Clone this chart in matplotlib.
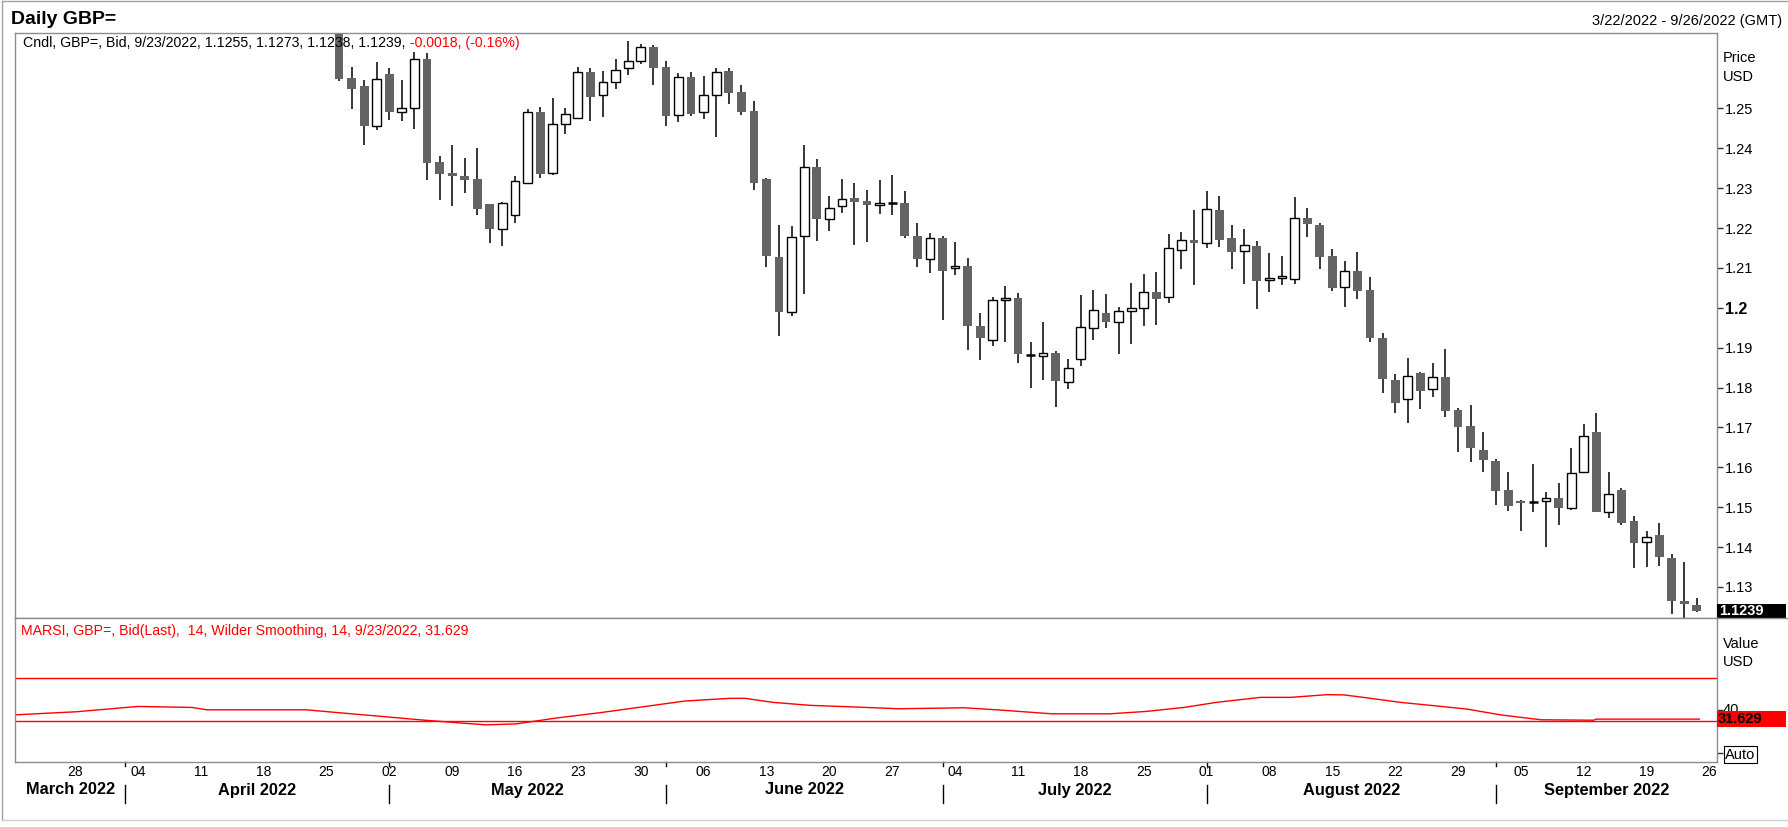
import numpy as np
import pandas as pd
import matplotlib
matplotlib.use('Agg')
import matplotlib.pyplot as plt
from matplotlib.transforms import blended_transform_factory
from matplotlib.patches import Rectangle
from matplotlib.lines import Line2D

plt.rcParams['font.family'] = ['Liberation Sans', 'DejaVu Sans']

# trading days on the x axis (Mon-Fri, 3/22 .. 9/26)
days = pd.bdate_range('2022-03-22', '2022-09-26')

# daily candles; earlier ones are above the visible range
first_candle = '2022-04-26'
opens = [1.2739, 1.2576, 1.2557, 1.2457, 1.2586, 1.2492, 1.2500, 1.2624, 1.2365, 1.2338,
         1.2330, 1.2323, 1.2260, 1.2198, 1.2232, 1.2314, 1.2492, 1.2337, 1.2462, 1.2477,
         1.2590, 1.2533, 1.2565, 1.2600, 1.2618, 1.2654, 1.2604, 1.2483, 1.2578, 1.2492,
         1.2533, 1.2593, 1.2541, 1.2493, 1.2323, 1.2127, 1.1990, 1.2181, 1.2353, 1.2222,
         1.2254, 1.2274, 1.2267, 1.2257, 1.2263, 1.2263, 1.2180, 1.2123, 1.2175, 1.2099,
         1.2105, 1.1954, 1.1918, 1.2020, 1.2025, 1.1882, 1.1880, 1.1887, 1.1815, 1.1871,
         1.1949, 1.1987, 1.1964, 1.1991, 1.1999, 1.2040, 1.2026, 1.2144, 1.2170, 1.2162,
         1.2245, 1.2175, 1.2142, 1.2155, 1.2069, 1.2074, 1.2071, 1.2225, 1.2208, 1.2130,
         1.2051, 1.2092, 1.2045, 1.1924, 1.1819, 1.1770, 1.1837, 1.1796, 1.1826, 1.1744,
         1.1704, 1.1644, 1.1616, 1.1542, 1.1515, 1.1513, 1.1515, 1.1524, 1.1499, 1.1589,
         1.1688, 1.1489, 1.1542, 1.1466, 1.1412, 1.1430, 1.1372, 1.1265, 1.1255]
highs = [1.2770, 1.2604, 1.2572, 1.2616, 1.2601, 1.2571, 1.2641, 1.2639, 1.2380, 1.2407,
         1.2375, 1.2400, 1.2261, 1.2264, 1.2330, 1.2498, 1.2503, 1.2526, 1.2501, 1.2604,
         1.2601, 1.2593, 1.2624, 1.2669, 1.2661, 1.2658, 1.2618, 1.2588, 1.2591, 1.2582,
         1.2601, 1.2601, 1.2559, 1.2518, 1.2325, 1.2208, 1.2205, 1.2408, 1.2372, 1.2280,
         1.2324, 1.2314, 1.2295, 1.2320, 1.2333, 1.2293, 1.2212, 1.2187, 1.2179, 1.2165,
         1.2125, 1.1987, 1.2027, 1.2055, 1.2037, 1.1913, 1.1964, 1.1892, 1.1871, 1.2032,
         1.2045, 1.2035, 1.2002, 1.2062, 1.2085, 1.2090, 1.2185, 1.2189, 1.2245, 1.2293,
         1.2280, 1.2208, 1.2197, 1.2167, 1.2137, 1.2130, 1.2278, 1.2250, 1.2213, 1.2147,
         1.2117, 1.2140, 1.2077, 1.1937, 1.1834, 1.1874, 1.1838, 1.1862, 1.1897, 1.1748,
         1.1756, 1.1689, 1.1620, 1.1587, 1.1518, 1.1608, 1.1537, 1.1560, 1.1648, 1.1709,
         1.1736, 1.1587, 1.1547, 1.1479, 1.1441, 1.1460, 1.1383, 1.1363, 1.1273]
lows = [1.2569, 1.2499, 1.2409, 1.2446, 1.2472, 1.2469, 1.2449, 1.2321, 1.2271, 1.2256,
        1.2288, 1.2233, 1.2162, 1.2154, 1.2213, 1.2313, 1.2325, 1.2334, 1.2436, 1.2474,
        1.2469, 1.2479, 1.2549, 1.2584, 1.2612, 1.2559, 1.2456, 1.2466, 1.2482, 1.2474,
        1.2428, 1.2511, 1.2484, 1.2296, 1.2103, 1.1928, 1.1980, 1.2035, 1.2168, 1.2193,
        1.2238, 1.2158, 1.2166, 1.2236, 1.2233, 1.2176, 1.2101, 1.2086, 1.1970, 1.2081,
        1.1893, 1.1869, 1.1903, 1.1913, 1.1861, 1.1800, 1.1820, 1.1752, 1.1797, 1.1855,
        1.1918, 1.1948, 1.1885, 1.1910, 1.1953, 1.1958, 1.2013, 1.2098, 1.2058, 1.2151,
        1.2153, 1.2096, 1.2060, 1.1998, 1.2040, 1.2058, 1.2060, 1.2178, 1.2096, 1.2043,
        1.2003, 1.2023, 1.1914, 1.1785, 1.1735, 1.1710, 1.1747, 1.1777, 1.1725, 1.1639,
        1.1612, 1.1589, 1.1505, 1.1491, 1.1439, 1.1488, 1.1401, 1.1456, 1.1492, 1.1587,
        1.1487, 1.1472, 1.1456, 1.1347, 1.1350, 1.1353, 1.1233, 1.1212, 1.1238]
closes = [1.2574, 1.2549, 1.2456, 1.2573, 1.2492, 1.2500, 1.2623, 1.2364, 1.2336, 1.2331,
          1.2321, 1.2248, 1.2198, 1.2262, 1.2317, 1.2492, 1.2336, 1.2461, 1.2487, 1.2590,
          1.2529, 1.2565, 1.2595, 1.2618, 1.2653, 1.2602, 1.2482, 1.2578, 1.2487, 1.2533,
          1.2590, 1.2538, 1.2492, 1.2314, 1.2131, 1.1990, 1.2177, 1.2352, 1.2223, 1.2249,
          1.2272, 1.2266, 1.2258, 1.2262, 1.2263, 1.2180, 1.2122, 1.2174, 1.2091, 1.2104,
          1.1953, 1.1925, 1.2019, 1.2025, 1.1884, 1.1882, 1.1887, 1.1817, 1.1848, 1.1952,
          1.1994, 1.1965, 1.1991, 1.1999, 1.2039, 1.2023, 1.2149, 1.2169, 1.2163, 1.2247,
          1.2171, 1.2141, 1.2157, 1.2068, 1.2075, 1.2079, 1.2224, 1.2211, 1.2128, 1.2050,
          1.2092, 1.2043, 1.1925, 1.1822, 1.1760, 1.1828, 1.1792, 1.1826, 1.1742, 1.1702,
          1.1649, 1.1617, 1.1540, 1.1504, 1.1511, 1.1513, 1.1524, 1.1499, 1.1586, 1.1678,
          1.1488, 1.1534, 1.1461, 1.1409, 1.1426, 1.1376, 1.1264, 1.1256, 1.1239]

# MARSI pane: (trading-day offset from 3/22, value)
rsi_pos = [-0.7, 4.1, 9.0, 13.3, 14.5, 22.4, 25.4, 28.5, 31.5, 34.6, 36.7, 39.1, 42.2,
           45.8, 48.8, 52.5, 56.1, 57.3, 59.5, 62.5, 65.6, 69.5, 73.2, 74.7, 77.7, 81.7,
           86.3, 89.2, 92.2, 94.8, 98.3, 100.7, 103.6, 104.9, 106.8, 109.4, 112.1, 114.7,
           117.4, 120.6, 124.8, 125.0, 133.2]
rsi_val = [35.6, 38.4, 43.3, 42.4, 40.2, 40.2, 37.1, 34.0, 30.9, 28.1, 26.3, 27.2, 32.5,
           37.6, 42.4, 48.3, 50.8, 50.8, 47.1, 44.3, 43.0, 41.2, 41.8, 42.1, 39.9, 36.5,
           36.5, 38.7, 42.4, 47.1, 51.7, 51.7, 54.2, 54.0, 51.2, 47.1, 44.0, 40.9,
           35.5, 31.0, 30.6, 31.6, 31.6]
rsi_levels = [70, 30]

price_ticks = [1.13, 1.14, 1.15, 1.16, 1.17, 1.18, 1.19, 1.20, 1.21, 1.22, 1.23, 1.24, 1.25]

title = 'Daily GBP='
date_range_text = '3/22/2022 - 9/26/2022 (GMT)'
cndl_text = 'Cndl, GBP=, Bid, 9/23/2022, 1.1255, 1.1273, 1.1238, 1.1239,'
cndl_change = ' -0.0018, (-0.16%)'
rsi_text = 'MARSI, GBP=, Bid(Last),  14, Wilder Smoothing, 14, 9/23/2022, 31.629'
rsi_last = 31.629

# ---------------------------------------------------------------------------
W, H = 1788, 827
def fx(px):
    return px / W
def fy(py):
    return 1 - py / H

frame_col = '#8c8c96'
down_col = '#646464'

fig = plt.figure(figsize=(W / 100, H / 100), dpi=100)
ax = fig.add_axes([fx(15), fy(618), fx(1717) - fx(15), fy(33) - fy(618)])
ax2 = fig.add_axes([fx(15), fy(762), fx(1717) - fx(15), fy(618) - fy(762)])

xlim = (-0.77, 134.6)

# candles
O = np.array(opens); Hi = np.array(highs); Lo = np.array(lows); C = np.array(closes)
start = days.get_loc(pd.Timestamp(first_candle))
x = np.arange(start, start + len(O))
up = C > O
down = C < O
flat = C == O
bw = 0.7

ax.vlines(x, Lo, Hi, color='black', lw=1.1, zorder=1)
ax.bar(x[down], (O - C)[down], bottom=C[down], width=bw, color=down_col, lw=0, zorder=2)
ax.bar(x[up], (C - O)[up], bottom=O[up], width=bw, facecolor='white',
       edgecolor='black', lw=1.0, zorder=2)
ax.hlines(C[flat], x[flat] - bw / 2, x[flat] + bw / 2, color='black', lw=1.8, zorder=2)

ax.set_xlim(*xlim)
ax.set_ylim(1.1222, 1.2689)
ax.set_xticks([])
ax.yaxis.tick_right()
ax.set_yticks(price_ticks)
ax.set_yticklabels(['1.2' if abs(t - 1.2) < 1e-9 else f'{t:.2f}' for t in price_ticks])
ax.tick_params(axis='y', length=4, width=1, color='#333333', pad=2, labelsize=10.5)
for lab, t in zip(ax.get_yticklabels(), price_ticks):
    if abs(t - 1.2) < 1e-9:
        lab.set_fontweight('bold')
        lab.set_fontsize(11.5)
for sp in ax.spines.values():
    sp.set_color(frame_col)
    sp.set_linewidth(1)

# last price box
tr_main = blended_transform_factory(fig.transFigure, ax.transData)
box_h = 15 / 3990
ax.add_patch(Rectangle((fx(1717), C[-1] - box_h / 2), fx(1786) - fx(1717), box_h,
                       transform=tr_main, facecolor='black', edgecolor='none',
                       clip_on=False, zorder=5))
ax.text(fx(1719), C[-1], f'{C[-1]:.4f}', transform=tr_main, color='white',
        fontsize=10.5, fontweight='bold', va='center', ha='left', zorder=6, clip_on=False)

# RSI pane
ax2.plot(rsi_pos, rsi_val, color='red', lw=1.0)
for lv in rsi_levels:
    ax2.axhline(lv, color='red', lw=1.0)
ax2.set_xlim(*xlim)
ax2.set_ylim(-8, 125)
ax2.set_xticks([])
ax2.yaxis.tick_right()
ax2.set_yticks([0, 40])
ax2.set_yticklabels(['Auto', ''])
ax2.tick_params(axis='y', length=4, width=1, color='#333333', pad=2, labelsize=10.5)
ax2.get_yticklabels()[0].set_bbox(dict(facecolor='white', edgecolor='black', pad=1, lw=0.8))
for sp in ax2.spines.values():
    sp.set_color(frame_col)
    sp.set_linewidth(1)

tr_rsi = blended_transform_factory(fig.transFigure, ax2.transData)
# the "40" label sits mostly behind the value box, as in the source chart
ax2.text(fx(1723), 40, '40', transform=tr_rsi, fontsize=10.5, va='center', ha='left',
         clip_on=False, zorder=4)
rbox_h = 16 / 1.075
ax2.add_patch(Rectangle((fx(1717), rsi_last - rbox_h / 2), fx(1786) - fx(1717), rbox_h,
                        transform=tr_rsi, facecolor='red', edgecolor='none',
                        clip_on=False, zorder=5))
ax2.text(fx(1718), rsi_last, f'{rsi_last:.3f}', transform=tr_rsi, color='black',
         fontsize=10.5, fontweight='bold', va='center', ha='left', zorder=6, clip_on=False)

# separator line between panes runs on to the right edge
fig.add_artist(Line2D([fx(1717), 1.0], [fy(618), fy(618)], color=frame_col, lw=1))

# date axis: Monday labels and month names
tr_x = blended_transform_factory(ax2.transData, fig.transFigure)
for i, d in enumerate(days):
    if d.weekday() == 0:
        ax2.text(i, fy(772), d.strftime('%d'), transform=tr_x, ha='center', va='center',
                 fontsize=10, clip_on=False)

month_starts = [i for i in range(1, len(days)) if days[i].month != days[i - 1].month]
bounds = [xlim[0]] + month_starts + [xlim[1]]
seg_first = [0] + month_starts
for k in range(len(seg_first)):
    mid = (bounds[k] + bounds[k + 1]) / 2
    ax2.text(mid, fy(790), days[seg_first[k]].strftime('%B %Y'), transform=tr_x,
             ha='center', va='center', fontsize=11.8, fontweight='bold', clip_on=False)
for m in month_starts:
    ax2.add_line(Line2D([m, m], [fy(762), fy(766)], transform=tr_x, color='black',
                        lw=1, clip_on=False))
    ax2.add_line(Line2D([m, m], [fy(785), fy(803)], transform=tr_x, color='black',
                        lw=1, clip_on=False))

# texts
fig.text(fx(11), fy(19.5), title, fontsize=14, fontweight='bold', va='center', ha='left')
fig.text(fx(1782), fy(21), date_range_text, fontsize=10.5, va='center', ha='right')
fig.text(fx(1723), fy(58), 'Price', fontsize=10.5, va='center', ha='left')
fig.text(fx(1723), fy(77), 'USD', fontsize=10.5, va='center', ha='left')
fig.text(fx(1723), fy(644), 'Value', fontsize=10.5, va='center', ha='left')
fig.text(fx(1723), fy(662), 'USD', fontsize=10.5, va='center', ha='left')

t1 = fig.text(fx(23), fy(43), cndl_text, fontsize=10.2, va='center', ha='left', color='black')
fig.canvas.draw()
bb = t1.get_window_extent(renderer=fig.canvas.get_renderer())
fig.text(bb.x1 / W, fy(43), cndl_change, fontsize=10.2, va='center', ha='left', color='red')
fig.text(fx(21), fy(631), rsi_text, fontsize=10.2, va='center', ha='left', color='red')

# outer frame
fig.add_artist(Line2D([fx(2), fx(2)], [fy(1), fy(820)], color='#a0a0a0', lw=1))
fig.add_artist(Line2D([fx(2), 1.0], [fy(1), fy(1)], color='#a0a0a0', lw=1))
fig.add_artist(Line2D([fx(2), 1.0], [fy(820), fy(820)], color='#d0d0d0', lw=1))

fig.savefig('out.png', dpi=100)
